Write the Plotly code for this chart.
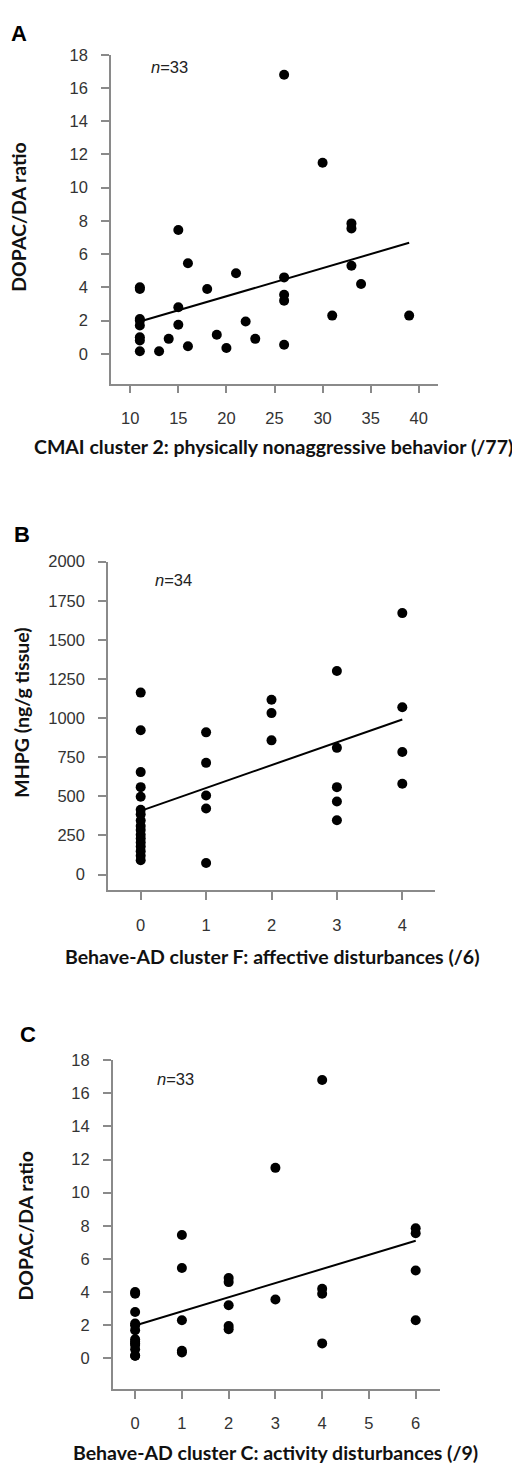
import numpy as np
import plotly.graph_objects as go

# ---------------- data ----------------
# Panel A: CMAI cluster 2 vs DOPAC/DA ratio
cmai_c2 = [11, 11, 11, 11, 11, 11, 11, 11, 13, 14, 15, 15, 15, 16, 16, 18, 19,
           20, 21, 22, 23, 26, 26, 26, 26, 26, 30, 31, 33, 33, 33, 34, 39]
dopac_a = [4.0, 3.9, 2.1, 2.0, 1.7, 1.0, 0.8, 0.15, 0.15, 0.9, 7.45, 2.8, 1.75,
           5.45, 0.45, 3.9, 1.15, 0.35, 4.85, 1.95, 0.9, 16.8, 4.6, 3.55, 3.2,
           0.55, 11.5, 2.3, 7.85, 7.55, 5.3, 4.2, 2.3]

# Panel B: Behave-AD cluster F vs MHPG
behave_f = [0]*17 + [1]*5 + [2]*3 + [3]*5 + [4]*4
mhpg = [1163, 922, 655, 559, 498, 415, 385, 345, 310, 285, 255, 230, 205, 180,
        150, 120, 92,
        909, 714, 506, 422, 74,
        1117, 1032, 858,
        1301, 810, 559, 467, 347,
        1671, 1070, 784, 581]

# Panel C: Behave-AD cluster C vs DOPAC/DA ratio
behave_c = [0]*13 + [1]*5 + [2]*5 + [3]*2 + [4]*4 + [6]*4
dopac_c = [4.0, 3.9, 2.8, 2.1, 2.0, 1.7, 1.15, 1.0, 0.9, 0.8, 0.55, 0.15, 0.15,
           7.45, 5.45, 2.3, 0.45, 0.35,
           4.85, 4.6, 3.2, 1.95, 1.75,
           11.5, 3.55,
           16.8, 4.2, 3.9, 0.9,
           7.85, 7.55, 5.3, 2.3]

panel_letters = ["A", "B", "C"]
n_labels = ["<i>n</i>=33", "<i>n</i>=34", "<i>n</i>=33"]
x_titles = ["CMAI cluster 2: physically nonaggressive behavior (/77)",
            "Behave-AD cluster F: affective disturbances (/6)",
            "Behave-AD cluster C: activity disturbances (/9)"]
y_titles = ["DOPAC/DA ratio", "MHPG (ng/g tissue)", "DOPAC/DA ratio"]
x_ticks = [[10, 15, 20, 25, 30, 35, 40], [0, 1, 2, 3, 4], [0, 1, 2, 3, 4, 5, 6]]
y_ticks = [list(range(0, 19, 2)), list(range(0, 2001, 250)), list(range(0, 19, 2))]

# ---------------- layout helpers ----------------
# The page body has an 8px default margin, so the figure is drawn 8px in from
# the window's top-left corner; positions below are window pixels.
OFF = 8
W, H = 520 - OFF, 1464 - OFF
def px_x(p):
    return (p - OFF) / W
def px_y(p):
    return 1 - (p - OFF) / H
def xd(a, b):
    return [px_x(a), px_x(b)]
def yd(top, bottom):
    return [px_y(bottom), px_y(top)]

panels = [
    dict(x=cmai_c2, y=dopac_a, xdom=xd(111, 438), ydom=yd(46, 377),
         xr=[8, 42], yr=[-1.8, 18]),
    dict(x=behave_f, y=mhpg, xdom=xd(108, 435), ydom=yd(556, 886.7),
         xr=[-0.5, 4.5], yr=[-100, 2000]),
    dict(x=behave_c, y=dopac_c, xdom=xd(112.7, 440), ydom=yd(1057.7, 1388.3),
         xr=[-0.48, 6.52], yr=[-1.84, 18]),
]

fig = go.Figure()
axis_col = "#8a8a8a"
tick_font = dict(family="Liberation Sans, Arial, sans-serif", size=16.5, color="#333333")
title_font = dict(family="Lato, sans-serif", size=19.5, color="#111111")

for i, p in enumerate(panels):
    k = "" if i == 0 else str(i + 1)
    xa, ya = "x" + k, "y" + k
    xs = np.array(p["x"], dtype=float)
    ys = np.array(p["y"], dtype=float)
    fig.add_trace(go.Scatter(x=xs, y=ys, mode="markers", xaxis=xa, yaxis=ya,
                             marker=dict(color="black", size=10), showlegend=False,
                             cliponaxis=False))
    slope, inter = np.polyfit(xs, ys, 1)
    lx = np.array([xs.min(), xs.max()])
    fig.add_trace(go.Scatter(x=lx, y=inter + slope * lx, mode="lines",
                             xaxis=xa, yaxis=ya, line=dict(color="black", width=2),
                             showlegend=False))
    common = dict(showline=True, linecolor=axis_col, linewidth=1.5, ticks="outside",
                  tickcolor=axis_col, tickwidth=1.5, ticklen=8, showgrid=False,
                  zeroline=False, tickfont=tick_font, fixedrange=True)
    fig.update_layout(**{
        "xaxis" + k: dict(domain=p["xdom"], range=p["xr"], anchor=ya,
                          tickvals=x_ticks[i], ticklabelstandoff=11, **common),
        "yaxis" + k: dict(domain=p["ydom"], range=p["yr"], anchor=xa,
                          tickvals=y_ticks[i], ticklabelstandoff=10, **common),
    })

def ann(text, x, y, font, angle=0):
    fig.add_annotation(text=text, x=px_x(x), y=px_y(y), xref="paper", yref="paper",
                       showarrow=False, xanchor="center", yanchor="middle",
                       textangle=angle, font=font)

letter_pos = [(19, 25), (22, 529), (28, 1032)]
n_pos = [(169, 58), (173, 575), (175, 1077)]
xt_pos = [(273, 440), (272, 953), (275, 1452)]
yt_pos = [(19, 210), (22, 708), (25, 1225)]
letter_font = dict(family="Liberation Sans, Arial, sans-serif", size=22, color="black")
n_font = dict(family="Liberation Sans, Arial, sans-serif", size=16.5, color="#222222")
for i in range(3):
    ann("<b>%s</b>" % panel_letters[i], *letter_pos[i], letter_font)
    ann(n_labels[i], *n_pos[i], n_font)
    ann("<b>%s</b>" % x_titles[i], *xt_pos[i], title_font)
    ann("<b>%s</b>" % y_titles[i], *yt_pos[i], title_font, angle=-90)

fig.update_layout(width=W, height=H, margin=dict(l=0, r=0, t=0, b=0),
                  paper_bgcolor="white", plot_bgcolor="white")
fig.write_html("out.html")
